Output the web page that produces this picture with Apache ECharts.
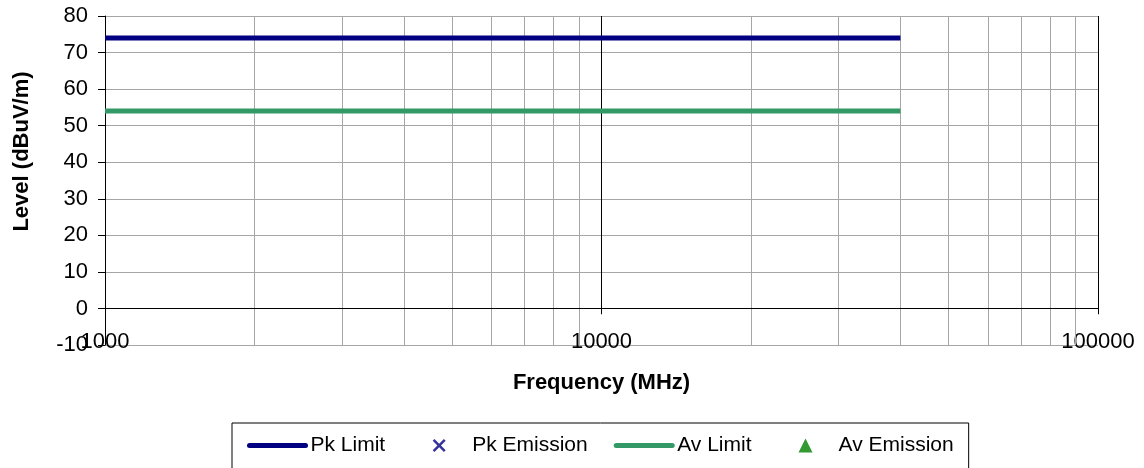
<!DOCTYPE html>
<html>
<head>
<meta charset="utf-8">
<title>Level vs Frequency</title>
<script src="https://cdn.jsdelivr.net/npm/echarts@6/dist/echarts.min.js"></script>
<style>
  html, body { margin: 0; padding: 0; background: #fff; }
  #main { width: 1144px; height: 468px; }
</style>
</head>
<body>
<div id="main"></div>
<script>
// limit lines (MHz, dBuV/m)
var pkLimit = [[1000, 74], [40000, 74]];
var avLimit = [[1000, 54], [40000, 54]];
// no emissions plotted
var pkEmission = [];
var avEmission = [];

// axis ranges and grid lines
var freqMin = 1000, freqMax = 100000;
var levelMin = -10, levelMax = 80, levelStep = 10;
var majorTicks = [10000, 100000];
var minorTicks = [2000, 3000, 4000, 5000, 6000, 7000, 8000, 9000,
                  20000, 30000, 40000, 50000, 60000, 70000, 80000, 90000];

var font = 'Liberation Sans, Arial, sans-serif';

var gridLines = [];
minorTicks.forEach(function (v) {
    gridLines.push([
        { coord: [v, levelMin], lineStyle: { color: '#a6a6a6', width: 1, type: 'solid' } },
        { coord: [v, levelMax] }
    ]);
});
majorTicks.forEach(function (v) {
    gridLines.push([
        { coord: [v, -1.6], lineStyle: { color: '#000', width: 1, type: 'solid' } },
        { coord: [v, levelMax] }
    ]);
});
// x axis crosses at 0
gridLines.push([
    { coord: [freqMin, 0], lineStyle: { color: '#000', width: 1, type: 'solid' } },
    { coord: [freqMax, 0] }
]);

// legend marker shapes, padded with tiny end dots so they fill the whole icon box
var iconPad = 'M0,7 L0.01,7 L0.01,7.01 Z M56,7 L55.99,7 L55.99,7.01 Z ';
var crossIcon = 'path://' + iconPad +
    'M21.5,1.8 L23.3,0 L28,4.7 L32.7,0 L34.5,1.8 L29.8,6.5 L34.5,11.2 L32.7,13 L28,8.3 L23.3,13 L21.5,11.2 L26.2,6.5 Z';
var triIcon = 'path://' + iconPad + 'M28,0 L35,14 L21,14 Z';

var myChart = echarts.init(document.getElementById('main'));

myChart.setOption({
    animation: false,
    textStyle: { fontFamily: font },
    grid: { left: 105, right: 46, top: 16, bottom: 123 },
    legend: {
        left: 232,
        top: 423,
        padding: [12, 15, 14, 15],
        itemGap: 26,
        itemWidth: 56,
        itemHeight: 14,
        borderColor: '#000',
        borderWidth: 1,
        lineStyle: { width: 5, cap: 'round' },
        textStyle: { fontFamily: font, fontSize: 21, color: '#000' },
        data: [
            { name: 'Pk Limit', itemStyle: { opacity: 0 } },
            { name: 'Pk Emission', icon: crossIcon },
            { name: 'Av Limit', itemStyle: { opacity: 0 } },
            { name: 'Av Emission', icon: triIcon }
        ]
    },
    xAxis: {
        type: 'log',
        logBase: 10,
        min: freqMin,
        max: freqMax,
        name: 'Frequency (MHz)',
        nameLocation: 'middle',
        nameGap: 27,
        nameTextStyle: { fontFamily: font, fontSize: 22, fontWeight: 'bold', color: '#000' },
        axisLine: { show: false },
        axisTick: { show: false },
        splitLine: { show: false },
        axisLabel: {
            margin: -3,
            verticalAlign: 'middle',
            fontSize: 22,
            color: '#000',
            fontFamily: font,
            formatter: function (v) { return String(v); }
        }
    },
    yAxis: {
        type: 'value',
        min: levelMin,
        max: levelMax,
        interval: levelStep,
        name: 'Level (dBuV/m)',
        nameLocation: 'middle',
        nameGap: 72,
        nameTextStyle: {
            fontFamily: font, fontSize: 22, fontWeight: 'bold', color: '#000',
            padding: [0, 0, 0, 58]
        },
        axisLine: { show: true, lineStyle: { color: '#000', width: 1 } },
        axisTick: { show: true, length: 7, lineStyle: { color: '#000' } },
        axisLabel: { margin: 17, fontSize: 22, color: '#000', fontFamily: font },
        splitLine: { show: true, lineStyle: { color: '#a6a6a6', width: 1 } }
    },
    series: [
        {
            name: 'Pk Limit',
            type: 'line',
            data: pkLimit,
            symbol: 'none',
            color: '#000080',
            lineStyle: { width: 5, color: '#000080' },
            z: 5,
            markLine: {
                silent: true,
                symbol: 'none',
                label: { show: false },
                animation: false,
                z: 1,
                data: gridLines
            }
        },
        {
            name: 'Pk Emission',
            type: 'scatter',
            data: pkEmission,
            color: '#000080',
            symbolSize: 12
        },
        {
            name: 'Av Limit',
            type: 'line',
            data: avLimit,
            symbol: 'none',
            color: '#339966',
            lineStyle: { width: 5, color: '#339966' },
            z: 5
        },
        {
            name: 'Av Emission',
            type: 'scatter',
            data: avEmission,
            symbol: 'triangle',
            color: '#008000',
            symbolSize: 12
        }
    ]
});
</script>
</body>
</html>
